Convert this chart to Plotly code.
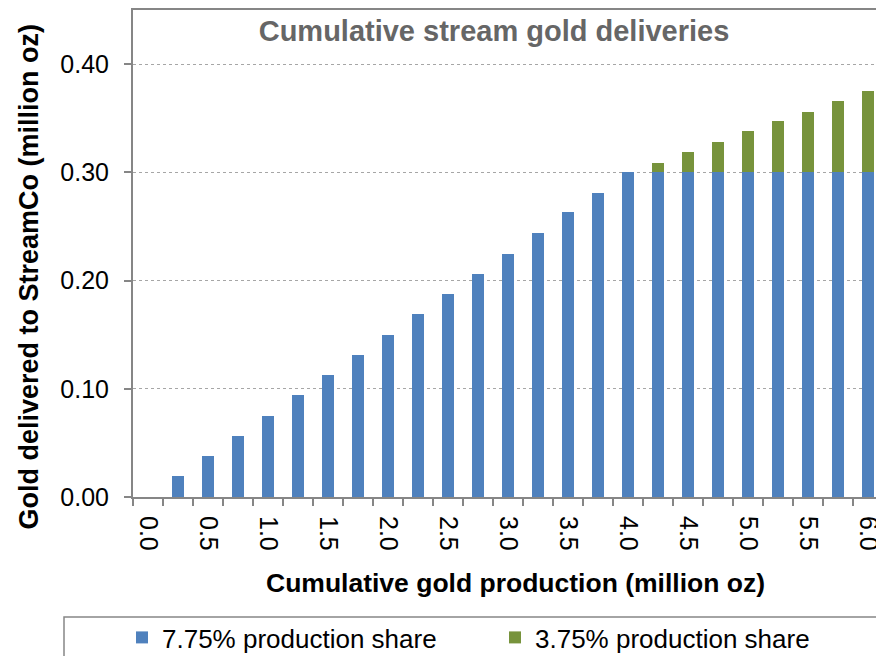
import plotly.graph_objects as go

# Data (million oz)
production = [0.0, 0.25, 0.5, 0.75, 1.0, 1.25, 1.5, 1.75, 2.0, 2.25, 2.5, 2.75, 3.0,
              3.25, 3.5, 3.75, 4.0, 4.25, 4.5, 4.75, 5.0, 5.25, 5.5, 5.75, 6.0]
share_775 = [0.0, 0.019, 0.038, 0.056, 0.075, 0.094, 0.113, 0.131, 0.150, 0.169, 0.188,
             0.206, 0.225, 0.244, 0.263, 0.281, 0.300, 0.300, 0.300, 0.300, 0.300,
             0.300, 0.300, 0.300, 0.300]
share_375 = [0.0, 0.0, 0.0, 0.0, 0.0, 0.0, 0.0, 0.0, 0.0, 0.0, 0.0, 0.0, 0.0, 0.0, 0.0,
             0.0, 0.0, 0.009, 0.019, 0.028, 0.038, 0.047, 0.056, 0.066, 0.075]
x_tick_vals = [0.0, 0.5, 1.0, 1.5, 2.0, 2.5, 3.0, 3.5, 4.0, 4.5, 5.0, 5.5, 6.0]
x_tick_text = ["0.0", "0.5", "1.0", "1.5", "2.0", "2.5", "3.0", "3.5", "4.0", "4.5",
               "5.0", "5.5", "6.0"]
y_tick_vals = [0.0, 0.1, 0.2, 0.3, 0.4]

step = 0.25
boundaries = [c - step / 2 for c in production]

FONT = "Arial, Liberation Sans, sans-serif"
AXIS = "#868686"

fig = go.Figure()
fig.add_trace(go.Bar(x=production, y=share_775, name="7.75% production share",
                     marker=dict(color="#4F81BD", line=dict(width=0)), width=step * 0.4))
fig.add_trace(go.Bar(x=production, y=share_375, name="3.75% production share",
                     marker=dict(color="#77933C", line=dict(width=0)), width=step * 0.4))

W, H = 876, 656
L, T, B, R = 133, 10, 159, 0
pw, ph = W - L - R, H - T - B
PX_PER_CAT = 30  # pixel width of one category slot in the reference

def px_x(px):
    return (px - L) / pw

def px_y(py):
    return (H - B - py) / ph

x_end = -step / 2 + pw / PX_PER_CAT * step

fig.update_layout(
    width=W, height=H,
    margin=dict(l=L, r=R, t=T, b=B, pad=0, autoexpand=False),
    barmode="stack",
    paper_bgcolor="white", plot_bgcolor="white",
    font=dict(family=FONT, color="black"),
    title=dict(text="<b>Cumulative stream gold deliveries</b>", xref="container",
               x=494 / W, xanchor="center", yref="container", y=1 - 31 / H,
               yanchor="middle", font=dict(size=29, color="#666666", family=FONT)),
    xaxis=dict(
        range=[-step / 2, x_end], automargin=False,
        tickmode="array", tickvals=x_tick_vals, ticktext=x_tick_text,
        tickangle=90, ticks="", tickfont=dict(size=25),
        ticklabelstandoff=12, ticklabeloverflow="allow",
        showline=True, linecolor=AXIS, linewidth=2, mirror=True,
        showgrid=False, zeroline=False,
        minor=dict(tickmode="array", tickvals=boundaries, ticks="outside",
                   ticklen=7, tickwidth=2, tickcolor=AXIS, showgrid=False),
    ),
    yaxis=dict(
        range=[0, 0.45], tickmode="array", tickvals=y_tick_vals, tickformat=".2f",
        automargin=False,
        ticks="outside", ticklen=7, tickwidth=2, tickcolor=AXIS,
        tickfont=dict(size=25), ticklabelstandoff=10,
        showline=True, linecolor=AXIS, linewidth=2,
        showgrid=True, gridcolor="#A6A6A6", griddash="dot", gridwidth=1,
        zeroline=False,
    ),
    showlegend=True,
    legend=dict(orientation="h", x=px_x(122), xanchor="left", y=px_y(614),
                yanchor="top", bgcolor="rgba(0,0,0,0)", borderwidth=0,
                font=dict(size=26, family=FONT), entrywidth=328, entrywidthmode="pixels",
                traceorder="normal"),
    annotations=[
        dict(text="<b>Gold delivered to StreamCo (million oz)</b>", xref="paper",
             yref="paper", x=px_x(28), y=px_y(276.5), textangle=-90,
             showarrow=False, xanchor="center", yanchor="middle",
             font=dict(size=27, family=FONT, color="black")),
        dict(text="<b>Cumulative gold production (million oz)</b>", xref="paper",
             yref="paper", x=px_x(515), y=px_y(583), showarrow=False,
             xanchor="center", yanchor="middle",
             font=dict(size=26.5, family=FONT, color="black")),
    ],
    shapes=[
        dict(type="rect", xref="paper", yref="paper", x0=px_x(64), x1=px_x(900),
             y0=px_y(617), y1=px_y(700), line=dict(color=AXIS, width=1.5),
             fillcolor="rgba(0,0,0,0)", layer="below"),
    ],
)

fig.write_html("out.html")
